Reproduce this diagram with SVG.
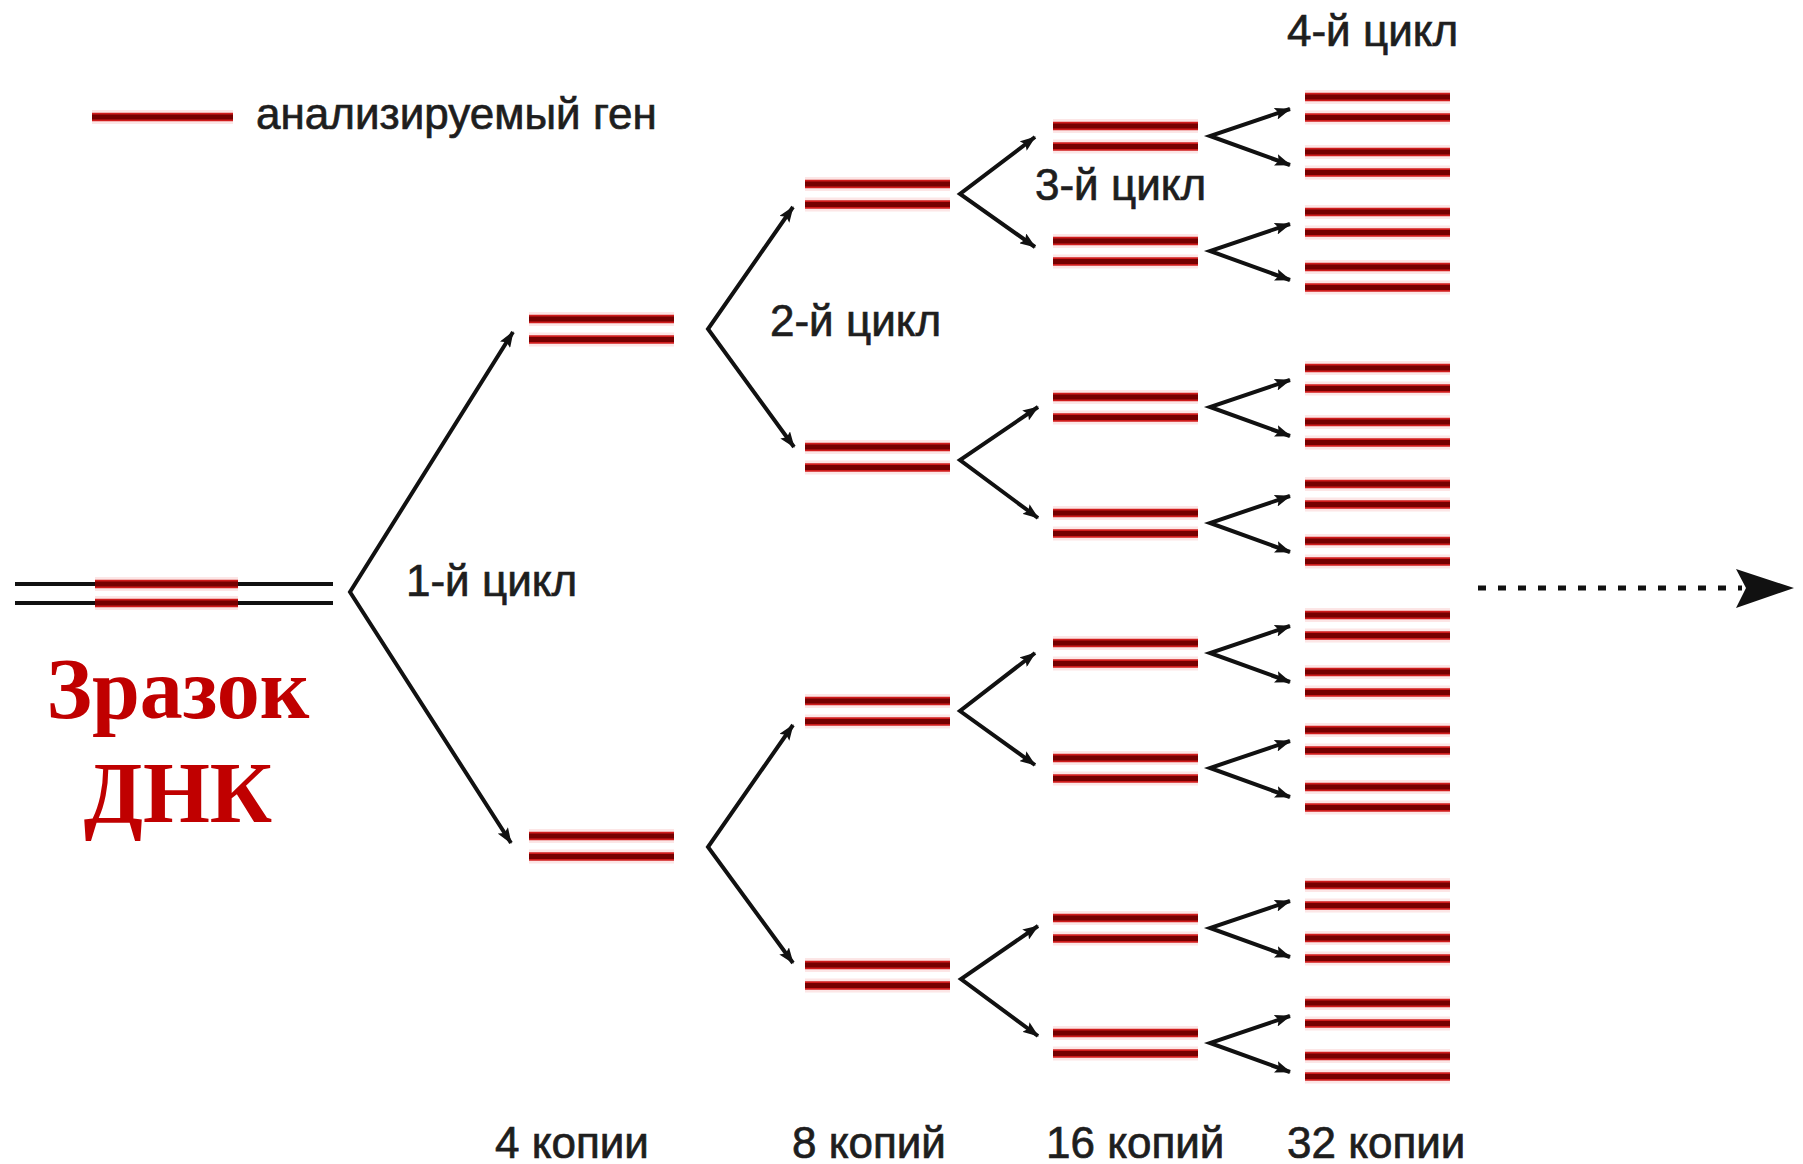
<svg xmlns="http://www.w3.org/2000/svg" xmlns:xlink="http://www.w3.org/1999/xlink" width="1803" height="1164" viewBox="0 0 1803 1164">
  <style>
    .lbl { font-family: "Liberation Sans", Arial, sans-serif; font-size: 44px; fill: #1e1e1e; stroke: #1e1e1e; stroke-width: 0.7; }
    .title { font-family: "Liberation Serif", "Times New Roman", serif; font-size: 86px; font-weight: bold; fill: #c00000; }
    .halo { stroke: #fce6e6; stroke-width: 14; fill: none; }
    .strand { stroke: #d01c1c; stroke-width: 8.5; fill: none; }
    .core { stroke: #760000; stroke-width: 5; fill: none; }
    .dna { stroke: #111; stroke-width: 3.8; fill: none; }
    .arrow { stroke: #111; stroke-width: 4; fill: none; stroke-linejoin: miter; marker-start: url(#ah); marker-end: url(#ah); }
    .dots { stroke: #111; stroke-width: 5; stroke-dasharray: 8 12; fill: none; }
  </style>
  <defs>
    <marker id="ah" viewBox="0 0 16 12" refX="15" refY="6" markerWidth="16" markerHeight="12" markerUnits="userSpaceOnUse" orient="auto-start-reverse">
      <path d="M0,0 L16,6 L0,12 L3,6 z" fill="#111"/>
    </marker>
    <!-- one double-stranded copy of the gene, 145 px long -->
    <g id="duplex">
      <line class="halo" x1="0" y1="0" x2="145" y2="0"/>
      <line class="halo" x1="0" y1="20.5" x2="145" y2="20.5"/>
      <line class="strand" x1="0" y1="0" x2="145" y2="0"/>
      <line class="strand" x1="0" y1="20.5" x2="145" y2="20.5"/>
      <line class="core" x1="0" y1="0" x2="145" y2="0"/>
      <line class="core" x1="0" y1="20.5" x2="145" y2="20.5"/>
    </g>
  </defs>

  <rect width="1803" height="1164" fill="#ffffff"/>

  <!-- legend -->
  <g id="legend">
    <line class="halo" x1="92" y1="117" x2="233" y2="117"/>
    <line class="strand" x1="92" y1="117" x2="233" y2="117"/>
    <line class="core" x1="92" y1="117" x2="233" y2="117"/>
    <text class="lbl" x="256" y="129">анализируемый ген</text>
  </g>

  <!-- starting DNA sample -->
  <g id="dna-sample">
    <line class="dna" x1="15" y1="584" x2="333" y2="584"/>
    <line class="dna" x1="15" y1="603" x2="333" y2="603"/>
    <line class="halo" x1="95" y1="584" x2="238" y2="584"/>
    <line class="halo" x1="95" y1="603" x2="238" y2="603"/>
    <line class="strand" x1="95" y1="584" x2="238" y2="584"/>
    <line class="strand" x1="95" y1="603" x2="238" y2="603"/>
    <line class="core" x1="95" y1="584" x2="238" y2="584"/>
    <line class="core" x1="95" y1="603" x2="238" y2="603"/>
    <text class="title" x="178" y="718" text-anchor="middle">Зразок</text>
    <text class="title" x="178" y="822" text-anchor="middle">ДНК</text>
  </g>

  <!-- cycle 1 products -->
  <g id="gen2-a"><use xlink:href="#duplex" x="529" y="319"/></g>
  <g id="gen2-b"><use xlink:href="#duplex" x="529" y="836"/></g>

  <!-- cycle 2 products -->
  <g id="gen3-a"><use xlink:href="#duplex" x="805" y="184"/></g>
  <g id="gen3-b"><use xlink:href="#duplex" x="805" y="447"/></g>
  <g id="gen3-c"><use xlink:href="#duplex" x="805" y="701"/></g>
  <g id="gen3-d"><use xlink:href="#duplex" x="805" y="965"/></g>

  <!-- cycle 3 products -->
  <g id="gen4-1"><use xlink:href="#duplex" x="1053" y="126"/></g>
  <g id="gen4-2"><use xlink:href="#duplex" x="1053" y="241"/></g>
  <g id="gen4-3"><use xlink:href="#duplex" x="1053" y="397"/></g>
  <g id="gen4-4"><use xlink:href="#duplex" x="1053" y="513"/></g>
  <g id="gen4-5"><use xlink:href="#duplex" x="1053" y="643"/></g>
  <g id="gen4-6"><use xlink:href="#duplex" x="1053" y="758"/></g>
  <g id="gen4-7"><use xlink:href="#duplex" x="1053" y="918"/></g>
  <g id="gen4-8"><use xlink:href="#duplex" x="1053" y="1033"/></g>

  <!-- cycle 4 products -->
  <g id="gen5-1"><use xlink:href="#duplex" x="1305" y="97"/><use xlink:href="#duplex" x="1305" y="152"/></g>
  <g id="gen5-2"><use xlink:href="#duplex" x="1305" y="212"/><use xlink:href="#duplex" x="1305" y="267"/></g>
  <g id="gen5-3"><use xlink:href="#duplex" x="1305" y="368"/><use xlink:href="#duplex" x="1305" y="422"/></g>
  <g id="gen5-4"><use xlink:href="#duplex" x="1305" y="484"/><use xlink:href="#duplex" x="1305" y="541"/></g>
  <g id="gen5-5"><use xlink:href="#duplex" x="1305" y="615"/><use xlink:href="#duplex" x="1305" y="672"/></g>
  <g id="gen5-6"><use xlink:href="#duplex" x="1305" y="730"/><use xlink:href="#duplex" x="1305" y="787"/></g>
  <g id="gen5-7"><use xlink:href="#duplex" x="1305" y="885"/><use xlink:href="#duplex" x="1305" y="938"/></g>
  <g id="gen5-8"><use xlink:href="#duplex" x="1305" y="1003"/><use xlink:href="#duplex" x="1305" y="1056"/></g>

  <!-- replication branches -->
  <g id="connectors">
    <path class="arrow" d="M513,332 L350,592 L511,843"/>
    <path class="arrow" d="M793,207 L708,329 L794,447"/>
    <path class="arrow" d="M793,725 L708,847 L793,963"/>
    <path class="arrow" d="M1035,137 L960,194 L1035,247"/>
    <path class="arrow" d="M1038,407 L960,460 L1038,518"/>
    <path class="arrow" d="M1035,653 L960,711 L1035,765"/>
    <path class="arrow" d="M1038,926 L961,979 L1038,1036"/>
    <path class="arrow" d="M1290,109 L1210,136 L1290,165"/>
    <path class="arrow" d="M1290,224 L1210,251 L1290,280"/>
    <path class="arrow" d="M1290,380 L1210,407 L1290,436"/>
    <path class="arrow" d="M1290,496 L1210,523 L1290,552"/>
    <path class="arrow" d="M1290,626 L1210,653 L1290,682"/>
    <path class="arrow" d="M1290,741 L1210,768 L1290,797"/>
    <path class="arrow" d="M1290,901 L1210,928 L1290,957"/>
    <path class="arrow" d="M1290,1016 L1210,1043 L1290,1072"/>
    <!-- further cycles -->
    <line class="dots" x1="1478" y1="588" x2="1742" y2="588"/>
    <polygon points="1736,569 1794,588 1736,608 1746,588" fill="#111"/>
  </g>

  <!-- cycle labels -->
  <g id="cycle-labels">
    <text class="lbl" x="406" y="596">1-й цикл</text>
    <text class="lbl" x="770" y="336">2-й цикл</text>
    <text class="lbl" x="1035" y="200">3-й цикл</text>
    <text class="lbl" x="1287" y="46">4-й цикл</text>
  </g>

  <!-- copy counts -->
  <g id="copy-labels">
    <text class="lbl" x="495" y="1158">4 копии</text>
    <text class="lbl" x="792" y="1158">8 копий</text>
    <text class="lbl" x="1046" y="1158">16 копий</text>
    <text class="lbl" x="1287" y="1158">32 копии</text>
  </g>
</svg>
